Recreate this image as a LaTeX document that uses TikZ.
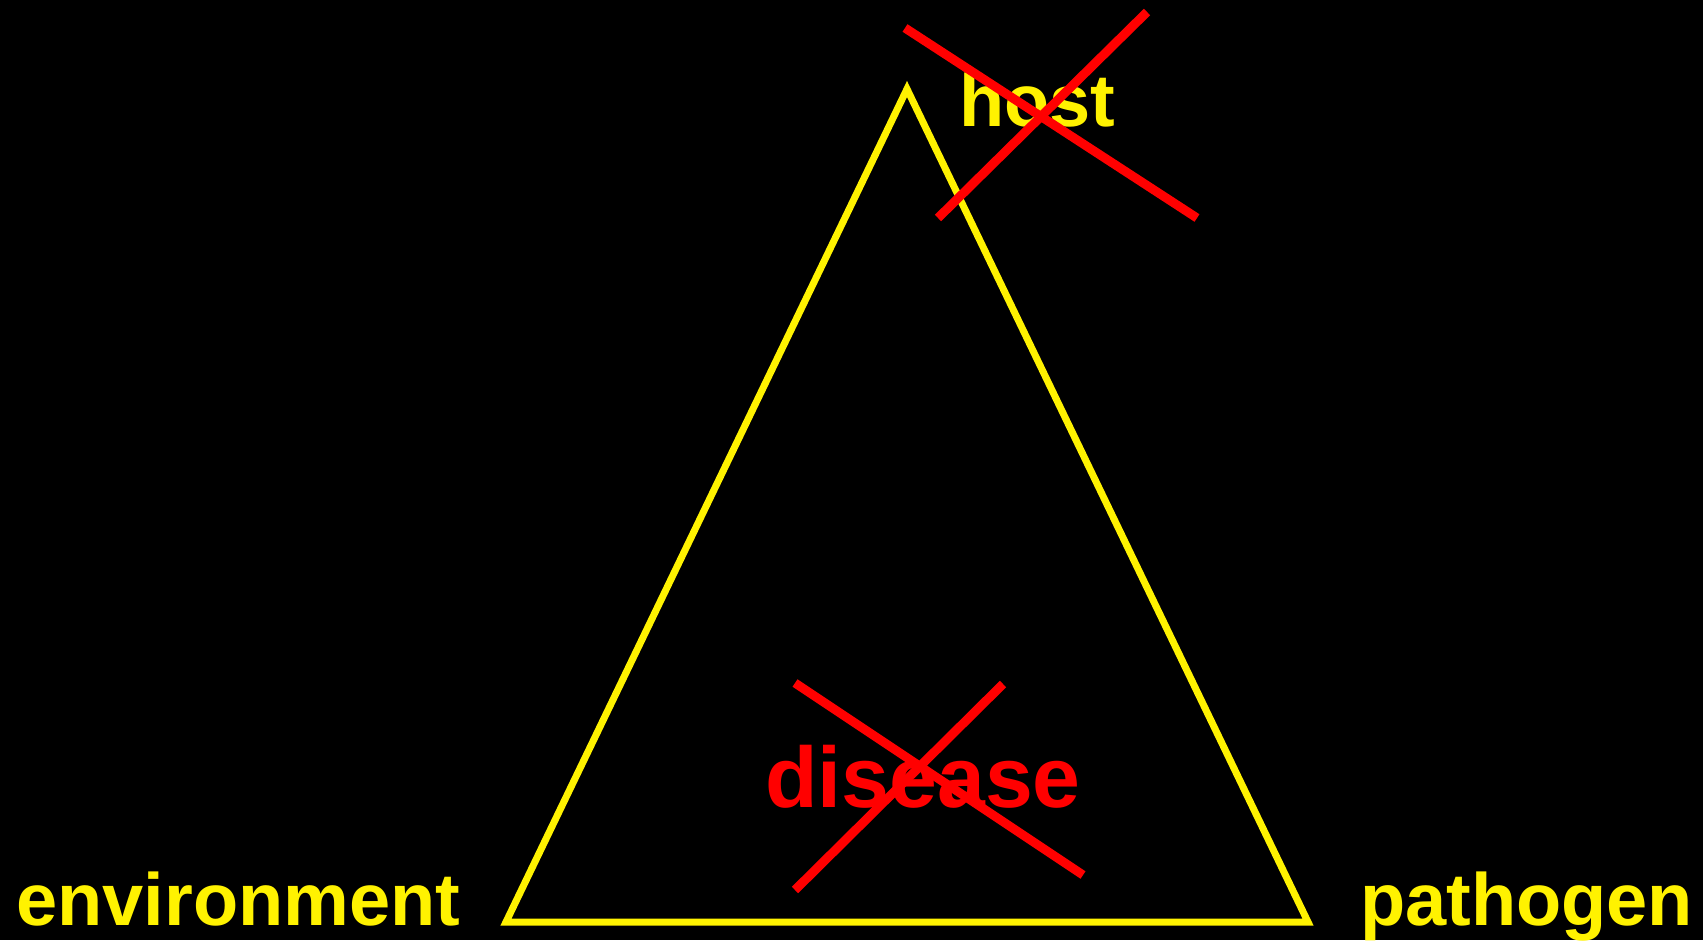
\documentclass[tikz,border=0pt]{standalone}
\usepackage{fontspec}
\setmainfont{Liberation Sans}
\usetikzlibrary{calc}
\tikzset{every picture/.style={/utils/exec={\bfseries}}}
\tikzset{label/.style={yellow,inner sep=0pt,anchor=base,font=\fontsize{74}{80}\selectfont\bfseries}}
\tikzset{side/.style={yellow, line width=7pt}}
\tikzset{cross/.style={red, line width=9pt}}

\begin{document}
\begin{tikzpicture}[x=1pt,y=-1pt]
    \fill [black] (0,0) rectangle (1703,940);
    \coordinate (top) at (907,89);
    \coordinate (bl) at (506,922);
    \coordinate (br) at (1308,922);
    \draw [side] (top) -- (bl) -- (br) -- cycle;
    \node [label] (host) at (1037.5,126) {host};
    \node [label] (env) at (238.5,925) {environment};
    \node [label] (path) at (1526.5,925) {pathogen};
    \node [label,red,font=\fontsize{86}{90}\selectfont\bfseries] (dis) at (923,807) {disease};
    \coordinate (h1) at (905,28); \coordinate (h2) at (1197,218);
    \coordinate (h3) at (938,218); \coordinate (h4) at (1147,12);
    \coordinate (d1) at (795,683); \coordinate (d2) at (1083,875);
    \coordinate (d3) at (795,890); \coordinate (d4) at (1003,684);
    \draw [cross] (h1) -- (h2);
    \draw [cross] (h3) -- (h4);
    \draw [cross] (d1) -- (d2);
    \draw [cross] (d3) -- (d4);
\end{tikzpicture}
\end{document}
